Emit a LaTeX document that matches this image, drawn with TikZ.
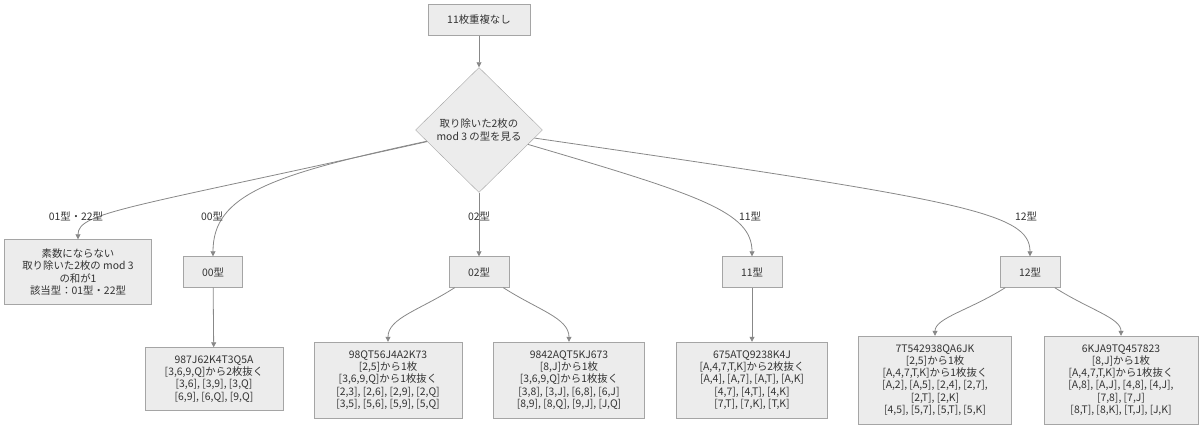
\documentclass[tikz,border=0pt]{standalone}
\usepackage{fontspec}
\setmainfont{Noto Sans CJK JP}
\usepackage{xcolor}
\usetikzlibrary{shapes.geometric,arrows.meta}
\definecolor{boxfill}{HTML}{ECECEC}
\definecolor{boxline}{HTML}{A5A5A5}
\definecolor{edgeline}{HTML}{888888}
\definecolor{txt}{HTML}{333333}

\begin{document}
\begin{tikzpicture}[x=1pt, y=-1pt, every node/.style={text=txt, font=\fontsize{10.4}{12.2}\selectfont}]
  % Define styles
  \tikzstyle{box} = [rectangle, draw=boxline, fill=boxfill, align=center, inner sep=2pt]
  \tikzstyle{check} = [diamond, draw=boxline, fill=boxfill, align=center, inner sep=0pt, minimum width=127pt, minimum height=125pt]
  \tikzstyle{arrow} = [draw=edgeline, line width=0.8pt, -{Triangle[length=5pt,width=5pt]}]
  \tikzstyle{tag} = [inner sep=1pt]

  \useasboundingbox (0,0) rectangle (1200,430);

  % Start and decision
  \node (start) [box, minimum width=102pt, minimum height=31pt] at (479,20) {11枚重複なし};
  \node (look) [check] at (479,130) {取り除いた2枚の\\mod 3 の型を見る};

  % Second row - one box for each type
  \node (prime) [box, minimum width=147pt, minimum height=65pt] at (78,272) {素数にならない\\取り除いた2枚の mod 3\\の和が1\\該当型：01型・22型};
  \node (t00) [box, minimum width=59pt, minimum height=31pt] at (213,272) {00型};
  \node (t02) [box, minimum width=60pt, minimum height=31pt] at (479,272) {02型};
  \node (t11) [box, minimum width=60pt, minimum height=31pt] at (752,272) {11型};
  \node (t12) [box, minimum width=60pt, minimum height=31pt] at (1030,272) {12型};

  % Third row - examples
  \node (r00) [box, minimum width=138pt, minimum height=63pt] at (214,379) {987J62K4T3Q5A\\{}[3,6,9,Q]から2枚抜く\\{}[3,6], [3,9], [3,Q]\\{}[6,9], [6,Q], [9,Q]};
  \node (r02a) [box, minimum width=148pt, minimum height=76pt] at (388,380) {98QT56J4A2K73\\{}[2,5]から1枚\\{}[3,6,9,Q]から1枚抜く\\{}[2,3], [2,6], [2,9], [2,Q]\\{}[3,5], [5,6], [5,9], [5,Q]};
  \node (r02b) [box, minimum width=151pt, minimum height=76pt] at (569,380) {9842AQT5KJ673\\{}[8,J]から1枚\\{}[3,6,9,Q]から1枚抜く\\{}[3,8], [3,J], [6,8], [6,J]\\{}[8,9], [8,Q], [9,J], [J,Q]};
  \node (r11) [box, minimum width=151pt, minimum height=76pt] at (752,380) {675ATQ9238K4J\\{}[A,4,7,T,K]から2枚抜く\\{}[A,4], [A,7], [A,T], [A,K]\\{}[4,7], [4,T], [4,K]\\{}[7,T], [7,K], [T,K]};
  \node (r12a) [box, minimum width=153pt, minimum height=88pt] at (935,380) {7T542938QA6JK\\{}[2,5]から1枚\\{}[A,4,7,T,K]から1枚抜く\\{}[A,2], [A,5], [2,4], [2,7],\\{}[2,T], [2,K]\\{}[4,5], [5,7], [5,T], [5,K]};
  \node (r12b) [box, minimum width=154pt, minimum height=88pt] at (1121,380) {6KJA9TQ457823\\{}[8,J]から1枚\\{}[A,4,7,T,K]から1枚抜く\\{}[A,8], [A,J], [4,8], [4,J],\\{}[7,8], [7,J]\\{}[8,T], [8,K], [T,J], [J,K]};

  % Arrows
  \draw [arrow] (start) -- (look);
  \draw [arrow] (look) .. controls (130,208) and (78,212) .. (prime);
  \draw [arrow] (look) .. controls (270,175) and (213,195) .. (t00);
  \draw [arrow] (look) -- (t02);
  \draw [arrow] (look) .. controls (700,195) and (752,212) .. (t11);
  \draw [arrow] (look) .. controls (960,200) and (1030,212) .. (t12);

  \draw [arrow] (t00) -- (r00);
  \draw [arrow] (t02) .. controls (420,310) and (388,318) .. (r02a);
  \draw [arrow] (t02) .. controls (538,310) and (569,318) .. (r02b);
  \draw [arrow] (t11) -- (r11);
  \draw [arrow] (t12) .. controls (970,310) and (935,318) .. (r12a);
  \draw [arrow] (t12) .. controls (1090,310) and (1121,318) .. (r12b);

  % Edge labels
  \node (l0122) [tag] at (76,216) {01型・22型};
  \node (l00) [tag] at (212,216) {00型};
  \node (l02) [tag] at (479,216) {02型};
  \node (l11) [tag] at (750,216) {11型};
  \node (l12) [tag] at (1026,216) {12型};
\end{tikzpicture}
\end{document}
